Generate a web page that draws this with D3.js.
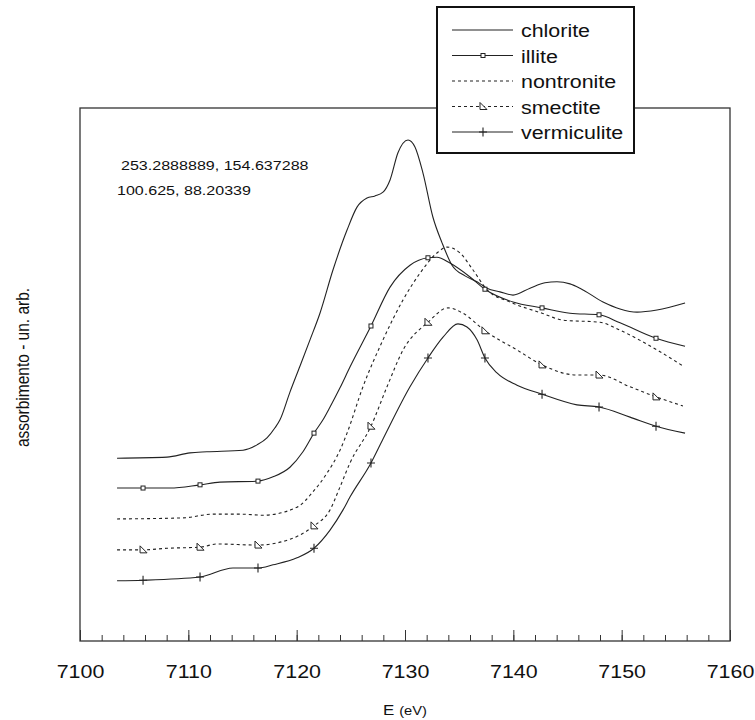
<!DOCTYPE html>
<html>
<head>
<meta charset="utf-8">
<script src="https://cdn.jsdelivr.net/npm/d3@7"></script>
<style>
  body { margin: 0; background: #fff; }
  text { font-family: "Liberation Sans", Arial, sans-serif; fill: #111; }
</style>
</head>
<body>
<div id="chart"></div>
<script>
// energies (eV) and absorbance (arb. units)
const chlorite = [
  [7103.42, 0.343], [7108.03, 0.345], [7110.15, 0.353], [7111.72, 0.355], [7115.05, 0.358],
  [7116.34, 0.368], [7117.26, 0.381], [7118.00, 0.400], [7118.46, 0.415], [7119.38, 0.467],
  [7120.31, 0.516], [7121.23, 0.565], [7122.15, 0.615], [7123.35, 0.696], [7124.65, 0.771],
  [7125.57, 0.814], [7126.49, 0.831], [7127.23, 0.835], [7127.97, 0.842], [7128.62, 0.865],
  [7129.35, 0.916], [7130.28, 0.940], [7130.92, 0.927], [7131.66, 0.878], [7132.58, 0.795],
  [7133.42, 0.747], [7134.34, 0.705], [7135.54, 0.685], [7136.65, 0.674], [7137.57, 0.662],
  [7138.77, 0.655], [7139.97, 0.649], [7141.54, 0.662], [7142.92, 0.672], [7144.03, 0.674],
  [7145.23, 0.670], [7146.15, 0.662], [7148.28, 0.636], [7149.85, 0.623], [7151.42, 0.617],
  [7153.26, 0.621], [7155.85, 0.634]
];

const illite = [
  [7103.42, 0.287], [7105.82, 0.287], [7108.31, 0.287], [7111.08, 0.293], [7112.92, 0.298],
  [7116.43, 0.300], [7117.82, 0.308], [7119.38, 0.326], [7120.58, 0.355], [7121.60, 0.390],
  [7122.43, 0.415], [7123.08, 0.439], [7124.00, 0.475], [7124.92, 0.514], [7126.86, 0.591],
  [7128.62, 0.664], [7130.46, 0.705], [7132.12, 0.719], [7132.95, 0.720], [7134.15, 0.709],
  [7136.00, 0.683], [7137.38, 0.660], [7139.97, 0.636], [7142.65, 0.625], [7145.23, 0.615],
  [7147.91, 0.612], [7149.85, 0.597], [7153.17, 0.568], [7155.85, 0.553]
];

const nontronite = [
  [7103.42, 0.229], [7109.51, 0.231], [7112.28, 0.238], [7114.77, 0.238], [7116.89, 0.236],
  [7120.03, 0.251], [7121.51, 0.280], [7122.80, 0.315], [7124.00, 0.358], [7124.65, 0.390],
  [7126.12, 0.477], [7127.97, 0.565], [7129.82, 0.640], [7131.38, 0.690], [7132.95, 0.728],
  [7133.88, 0.739], [7135.08, 0.728], [7136.28, 0.696], [7137.57, 0.659], [7139.69, 0.636],
  [7142.65, 0.615], [7144.58, 0.602], [7148.00, 0.598], [7149.85, 0.583], [7153.26, 0.546],
  [7155.66, 0.516]
];

const smectite = [
  [7103.42, 0.171], [7105.82, 0.171], [7108.03, 0.174], [7111.08, 0.176], [7112.65, 0.182],
  [7116.43, 0.180], [7118.18, 0.184], [7120.31, 0.199], [7121.60, 0.216], [7123.08, 0.246],
  [7124.00, 0.289], [7124.92, 0.334], [7126.86, 0.403], [7128.34, 0.477], [7129.82, 0.546],
  [7132.12, 0.598], [7133.97, 0.625], [7135.35, 0.615], [7137.38, 0.582], [7140.34, 0.546],
  [7142.65, 0.518], [7145.88, 0.499], [7147.91, 0.499], [7150.77, 0.477], [7153.17, 0.458],
  [7155.66, 0.441]
];

const vermiculite = [
  [7103.42, 0.113], [7105.82, 0.114], [7111.08, 0.120], [7114.12, 0.137], [7116.43, 0.137],
  [7117.82, 0.143], [7120.03, 0.156], [7121.60, 0.174], [7123.08, 0.208], [7124.28, 0.246],
  [7124.92, 0.270], [7126.86, 0.334], [7127.97, 0.379], [7130.46, 0.477], [7132.12, 0.531],
  [7133.51, 0.570], [7134.89, 0.595], [7135.72, 0.589], [7136.65, 0.565], [7137.38, 0.531],
  [7138.49, 0.503], [7140.34, 0.480], [7142.65, 0.463], [7145.88, 0.443], [7147.91, 0.439],
  [7150.77, 0.420], [7153.17, 0.403], [7155.85, 0.390]
];

// energies where the symbols sit on the marked curves
const markerE = [7105.82, 7111.08, 7116.43, 7121.60, 7126.86, 7132.12, 7137.38, 7142.65, 7147.91, 7153.17];

const seriesNames = ["chlorite", "illite", "nontronite", "smectite", "vermiculite"];
const seriesData = [chlorite, illite, nontronite, smectite, vermiculite];

const xTicks = [7100, 7110, 7120, 7130, 7140, 7150, 7160];
const annotations = ["253.2888889, 154.637288", "100.625, 88.20339"];

const stretch = 1.19; // the original figure is a bit wide in its glyphs
const ink = "#222";

const series = seriesNames.map((name, i) => ({
  name: name,
  values: seriesData[i],
  dashed: name === "nontronite" || name === "smectite",
  marker: name === "illite" ? "square" : name === "smectite" ? "triangle" : name === "vermiculite" ? "plus" : null
}));

const margin = { top: 108, right: 25, bottom: 79, left: 80 };
const width = 755 - margin.left - margin.right;
const height = 720 - margin.top - margin.bottom;

const svgRoot = d3.select("#chart")
  .append("svg")
  .attr("width", 755)
  .attr("height", 720);

const svg = svgRoot.append("g")
  .attr("transform", `translate(${margin.left},${margin.top})`);

const x = d3.scaleLinear()
  .domain([7100, 7160])
  .range([0, width]);

const y = d3.scaleLinear()
  .domain([0, 1])
  .range([height, 0]);

// frame
svg.append("rect")
  .attr("x", 0)
  .attr("y", 0)
  .attr("width", width)
  .attr("height", height)
  .attr("fill", "none")
  .attr("stroke", "#333")
  .attr("stroke-width", 1.3);

// minor ticks, every 2 eV, pointing inward
svg.append("g")
  .attr("class", "x-minor")
  .attr("transform", `translate(0,${height})`)
  .call(d3.axisBottom(x).ticks(30).tickSize(-6).tickFormat(""))
  .call(g => g.select(".domain").remove())
  .call(g => g.selectAll("line").attr("stroke", "#333"));

// major ticks with labels
svg.append("g")
  .attr("class", "x-axis")
  .attr("transform", `translate(0,${height})`)
  .call(d3.axisBottom(x).tickValues(xTicks).tickSize(-11).tickPadding(24).tickFormat(d3.format("d")))
  .call(g => g.select(".domain").remove())
  .call(g => g.selectAll("line").attr("stroke", "#333"))
  .call(g => g.selectAll("text")
    .attr("font-size", 18)
    .attr("font-family", "'Liberation Sans', Arial, sans-serif")
    .attr("fill", "#111")
    .attr("transform", `scale(${stretch},1)`));

// axis titles
const xTitle = svgRoot.append("text")
  .attr("text-anchor", "middle")
  .attr("transform", `translate(${margin.left + width / 2},715) scale(${stretch * 0.95},1)`);
xTitle.append("tspan").attr("font-size", 15).text("E ");
xTitle.append("tspan").attr("font-size", 13).text("(eV)");

svgRoot.append("text")
  .attr("text-anchor", "middle")
  .attr("font-size", 15.5)
  .attr("transform", `translate(29,${margin.top + height / 2 - 7}) scale(${stretch},1) rotate(-90)`)
  .text("assorbimento - un. arb.");

// curves
const line = d3.line()
  .x(d => x(d[0]))
  .y(d => y(d[1]))
  .curve(d3.curveMonotoneX);

svg.selectAll(".curve")
  .data(series)
  .enter()
  .append("path")
  .attr("class", "curve")
  .attr("d", d => line(d.values))
  .attr("fill", "none")
  .attr("stroke", ink)
  .attr("stroke-width", 1.1)
  .attr("stroke-dasharray", d => d.dashed ? "3,3" : null);

function drawMarker(g, type) {
  if (type === "square") {
    g.append("rect")
      .attr("x", -2).attr("y", -2)
      .attr("width", 4).attr("height", 4)
      .attr("fill", "#fff").attr("stroke", ink).attr("stroke-width", 1);
  } else if (type === "triangle") {
    g.append("path")
      .attr("d", "M-3,-4L-3,3L4,3Z")
      .attr("fill", "#fff").attr("stroke", ink).attr("stroke-width", 1);
  } else if (type === "plus") {
    g.append("path")
      .attr("d", "M-4,0H4M0,-4.5V4.5")
      .attr("stroke", ink).attr("stroke-width", 1.1);
  }
}

series.filter(s => s.marker).forEach(s => {
  const pts = s.values.filter(d => markerE.some(e => Math.abs(e - d[0]) < 0.005));
  svg.append("g")
    .attr("class", "markers " + s.name)
    .selectAll("g")
    .data(pts)
    .enter()
    .append("g")
    .attr("transform", d => `translate(${x(d[0])},${y(d[1])})`)
    .each(function() { drawMarker(d3.select(this), s.marker); });
});

// coordinate readouts in the upper left
svgRoot.selectAll(".note")
  .data(annotations)
  .enter()
  .append("text")
  .attr("class", "note")
  .attr("font-size", 13.5)
  .attr("transform", (d, i) => `translate(${i === 0 ? 121 : 117},${170 + i * 25}) scale(${stretch},1)`)
  .text(d => d);

// legend (sits over the top frame edge)
const legend = svgRoot.append("g")
  .attr("class", "legend")
  .attr("transform", "translate(437,7)");

legend.append("rect")
  .attr("width", 197)
  .attr("height", 146)
  .attr("fill", "#fff")
  .attr("stroke", "#111")
  .attr("stroke-width", 2);

const rowHeight = 25.5;

const item = legend.selectAll(".legend-item")
  .data(series)
  .enter()
  .append("g")
  .attr("class", "legend-item")
  .attr("transform", (d, i) => `translate(0,${23 + i * rowHeight})`);

item.append("line")
  .attr("x1", 15)
  .attr("x2", 76)
  .attr("stroke", ink)
  .attr("stroke-width", 1.1)
  .attr("stroke-dasharray", d => d.dashed ? "3,3" : null);

item.filter(d => d.marker)
  .append("g")
  .attr("transform", "translate(46,0)")
  .each(function(d) { drawMarker(d3.select(this), d.marker); });

item.append("text")
  .attr("font-size", 18)
  .attr("transform", `translate(84,7) scale(${stretch},1)`)
  .text(d => d.name);
</script>
</body>
</html>
